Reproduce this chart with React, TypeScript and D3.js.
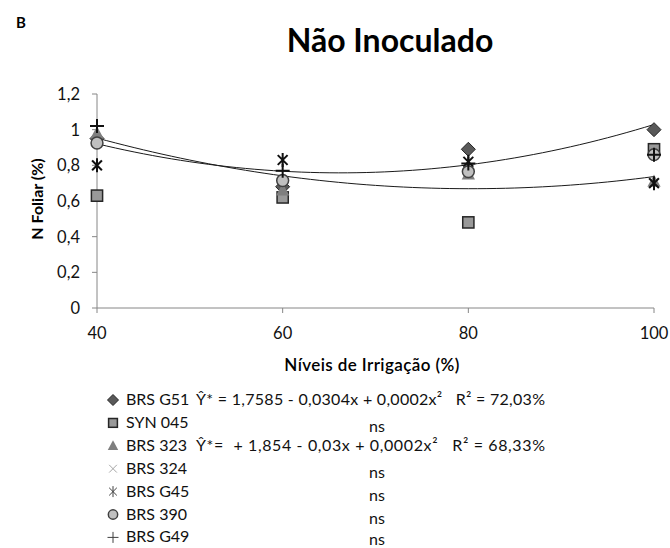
import * as d3 from "d3";

// irrigation levels (%)
const levels = [40, 60, 80, 100];
const yTicks = [0, 0.2, 0.4, 0.6, 0.8, 1, 1.2];

// N foliar (%) per cultivar
const brsG51 = [0.95, 0.68, 0.89, 1.0];
const syn045 = [0.63, 0.62, 0.48, 0.89];
const brs323 = [0.98, 0.66, 0.75, 0.71];
const brs324 = [0.8, 0.83, 0.82, 0.7];
const brsG45 = [0.8, 0.83, 0.82, 0.7];
const brs390 = [0.925, 0.715, 0.765, 0.86];
const brsG49 = [1.02, 0.77, 0.81, 0.86];

const legendNames = ["BRS G51", "SYN 045", "BRS 323", "BRS 324", "BRS G45", "BRS 390", "BRS G49"];
const legendNotes = [
  "Ŷ* = 1,7585 - 0,0304x + 0,0002x²   R² = 72,03%",
  "ns",
  "Ŷ*=  + 1,854 - 0,03x + 0,0002x²   R² = 68,33%",
  "ns",
  "ns",
  "ns",
  "ns",
];

type Kind = "diamond" | "square" | "triangle" | "x" | "star" | "circle" | "plus";

const series: { name: string; values: number[]; kind: Kind; trend: boolean }[] = [
  { name: legendNames[0], values: brsG51, kind: "diamond", trend: true },
  { name: legendNames[1], values: syn045, kind: "square", trend: false },
  { name: legendNames[2], values: brs323, kind: "triangle", trend: true },
  { name: legendNames[3], values: brs324, kind: "x", trend: false },
  { name: legendNames[4], values: brsG45, kind: "star", trend: false },
  { name: legendNames[5], values: brs390, kind: "circle", trend: false },
  { name: legendNames[6], values: brsG49, kind: "plus", trend: false },
];

const FONT = "Lato, 'Open Sans', sans-serif";
const AXIS = "#868686";

// least squares quadratic fit (what the Excel trendline does)
function quadFit(xs: number[], ys: number[]) {
  const s = (f: (x: number, y: number) => number) => d3.sum(xs, (x, i) => f(x, ys[i]));
  const n = xs.length;
  const sx = s((x) => x), sx2 = s((x) => x * x), sx3 = s((x) => x ** 3), sx4 = s((x) => x ** 4);
  const sy = s((_, y) => y), sxy = s((x, y) => x * y), sx2y = s((x, y) => x * x * y);
  const m = [
    [n, sx, sx2, sy],
    [sx, sx2, sx3, sxy],
    [sx2, sx3, sx4, sx2y],
  ];
  for (let i = 0; i < 3; i++) {
    for (let k = i + 1; k < 3; k++) {
      const f = m[k][i] / m[i][i];
      for (let j = i; j < 4; j++) m[k][j] -= f * m[i][j];
    }
  }
  const c = [0, 0, 0];
  for (let i = 2; i >= 0; i--) {
    let v = m[i][3];
    for (let j = i + 1; j < 3; j++) v -= m[i][j] * c[j];
    c[i] = v / m[i][i];
  }
  return (x: number) => c[0] + c[1] * x + c[2] * x * x;
}

function Marker({ kind, r, legend }: { kind: Kind; r: number; legend?: boolean }) {
  switch (kind) {
    case "diamond":
      return <path d={`M0,${-r}L${r},0L0,${r}L${-r},0Z`} fill="#595959" stroke="#262626" strokeWidth={1} />;
    case "square":
      return <rect x={-r * 0.8} y={-r * 0.8} width={r * 1.6} height={r * 1.6} fill="#999999" stroke="#262626" strokeWidth={1.5} />;
    case "triangle":
      return <path d={`M0,${-r}L${r * 0.95},${r * 0.75}L${-r * 0.95},${r * 0.75}Z`} fill="#7f7f7f" />;
    case "x":
      return <path d={`M${-r * 0.7},${-r * 0.7}L${r * 0.7},${r * 0.7}M${-r * 0.7},${r * 0.7}L${r * 0.7},${-r * 0.7}`} stroke="#a6a6a6" strokeWidth={1} />;
    case "star":
      return (
        <path
          d={`M${-r * 0.7},${-r * 0.7}L${r * 0.7},${r * 0.7}M${-r * 0.7},${r * 0.7}L${r * 0.7},${-r * 0.7}M0,${-r}L0,${r}`}
          stroke={legend ? "#404040" : "#111"}
          strokeWidth={legend ? 1 : 2}
        />
      );
    case "circle":
      return <circle r={r * 0.85} fill="#c0c0c0" stroke="#404040" strokeWidth={1.5} />;
    case "plus":
      return <path d={`M${-r},0L${r},0M0,${-r}L0,${r}`} stroke={legend ? "#404040" : "#111"} strokeWidth={legend ? 1 : 2} />;
  }
}

export default function App() {
  const width = 670;
  const height = 548;
  const x = d3.scaleLinear().domain([40, 100]).range([97, 654]);
  const y = d3.scaleLinear().domain([0, 1.2]).range([308, 94]);
  const fmt = (v: number) => String(+v.toFixed(1)).replace(".", ",");

  const line = d3
    .line<[number, number]>()
    .x((d) => x(d[0]))
    .y((d) => y(d[1]));
  const xs = d3.range(40, 100.01, 1);

  const rowY = (i: number) => 405 + i * 22.9;

  return (
    <>
      <style>{"body{margin:0}"}</style>
      <svg width={width} height={height} style={{ display: "block", background: "#fff" }} fontFamily={FONT}>
        <text x={16} y={28} fontSize={15} fontWeight={700}>B</text>
        <text x={390} y={52} fontSize={32} fontWeight={700} textAnchor="middle">Não Inoculado</text>

        {/* y axis */}
        <line x1={x(40)} x2={x(40)} y1={y(1.2)} y2={y(0)} stroke={AXIS} />
        {yTicks.map((t) => (
          <g key={t}>
            <line x1={x(40) - 5} x2={x(40)} y1={y(t)} y2={y(t)} stroke={AXIS} />
            <text x={80} y={y(t) + 6} fontSize={16.5} textAnchor="end" fill="#111">{fmt(t)}</text>
          </g>
        ))}
        {/* x axis */}
        <line x1={x(40)} x2={x(100)} y1={y(0)} y2={y(0)} stroke={AXIS} />
        {levels.map((l) => (
          <g key={l}>
            <line x1={x(l)} x2={x(l)} y1={y(0)} y2={y(0) + 5} stroke={AXIS} />
            <text x={x(l)} y={339} fontSize={16.5} textAnchor="middle" fill="#111">{l}</text>
          </g>
        ))}
        <text x={372} y={371} fontSize={17} fontWeight={600} textAnchor="middle" letterSpacing={0.4}>Níveis de Irrigação (%)</text>
        <text transform={`translate(43,199) rotate(-90)`} fontSize={16} fontWeight={700} textAnchor="middle">N Foliar (%)</text>

        {/* trendlines */}
        {series.filter((s) => s.trend).map((s) => {
          const f = quadFit(levels, s.values);
          return (
            <path
              key={s.name}
              d={line(xs.map((v) => [v, f(v)] as [number, number])) as string}
              fill="none"
              stroke="#1a1a1a"
              strokeWidth={1}
            />
          );
        })}

        {/* markers */}
        {series.map((s) => (
          <g key={s.name}>
            {s.values.map((v, i) => (
              <g key={i} transform={`translate(${x(levels[i])},${y(v)})`}>
                <Marker kind={s.kind} r={7} />
              </g>
            ))}
          </g>
        ))}

        {/* legend */}
        {series.map((s, i) => (
          <g key={s.name}>
            <g transform={`translate(113,${rowY(i) - 5})`}>
              <Marker kind={s.kind} r={5.5} legend />
            </g>
            <text x={126} y={rowY(i)} fontSize={16} fill="#111">{s.name}</text>
            {legendNotes[i] === "ns" ? (
              <text x={377} y={Math.min(rowY(i) + 4, 545)} fontSize={16} textAnchor="middle" fill="#111">ns</text>
            ) : (
              <text x={196} y={rowY(i)} fontSize={16} fill="#111" xmlSpace="preserve" textLength={349}>{legendNotes[i]}</text>
            )}
          </g>
        ))}
      </svg>
    </>
  );
}
